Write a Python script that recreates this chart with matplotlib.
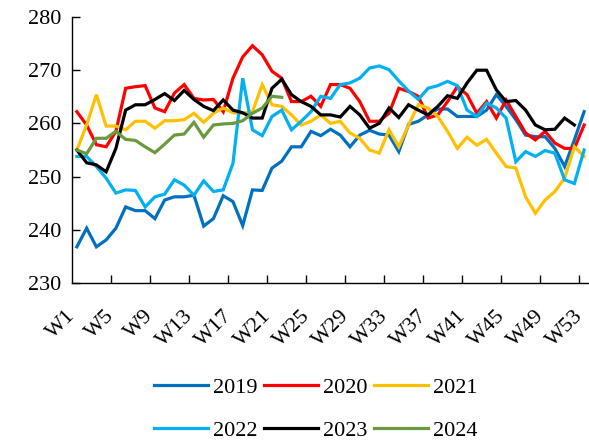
import matplotlib
matplotlib.use("Agg")
import matplotlib.pyplot as plt
from matplotlib.transforms import ScaledTranslation

plt.rcParams['font.family'] = ['Liberation Serif', 'DejaVu Serif']

weeks = list(range(1, 54))
tick_labels = ["W%d" % w for w in range(1, 54, 4)]

y2019 = [236.8, 240.3, 236.8, 238.1, 240.3, 244.3, 243.6, 243.6, 242.1, 245.6,
         246.2, 246.2, 246.5, 240.7, 242.1, 246.4, 245.3, 240.8, 247.5, 247.4,
         251.6, 252.9, 255.6, 255.6, 258.5, 257.7, 258.9, 257.8, 255.6, 257.8,
         258.7, 258.0, 257.8, 254.7, 259.8, 260.4, 261.6, 262.7, 262.7, 261.3,
         261.3, 261.3, 262.5, 265.4, 263.2, 260.7, 257.8, 257.5, 257.5, 255.3,
         251.9, 256.9, 262.2]
y2020 = [262.2, 259.7, 256.0, 255.6, 258.5, 266.6, 266.9, 267.1, 262.9, 262.2,
         265.7, 267.3, 264.7, 264.4, 264.5, 262.2, 268.5, 272.5, 274.6, 272.9,
         269.8, 268.5, 264.1, 264.1, 265.1, 263.2, 267.3, 267.3, 266.6, 264.1,
         260.4, 260.4, 261.9, 266.6, 266.0, 265.1, 261.0, 261.6, 264.1, 266.9,
         265.4, 261.9, 264.1, 261.0, 264.4, 261.3, 258.2, 256.9, 258.5, 256.3,
         255.3, 255.3, 259.7]
y2021 = [255.0, 259.7, 265.4, 259.5, 259.5, 258.8, 260.4, 260.4, 259.1, 260.5,
         260.5, 260.7, 261.9, 260.2, 261.9, 262.9, 262.0, 261.9, 262.2, 267.3,
         263.5, 263.2, 261.6, 259.7, 260.4, 261.6, 260.0, 260.4, 258.2, 257.2,
         255.0, 254.4, 258.8, 255.6, 259.7, 263.5, 262.9, 261.3, 258.5, 255.3,
         257.4, 255.9, 257.0, 254.4, 251.9, 251.6, 246.2, 243.1, 245.6, 247.2,
         249.7, 255.6, 253.8]
y2022 = [253.8, 253.8, 251.9, 249.7, 246.9, 247.5, 247.4, 244.3, 246.2, 246.7,
         249.4, 248.4, 246.5, 249.2, 247.2, 247.5, 252.5, 268.5, 258.8, 257.7,
         261.3, 262.5, 258.8, 260.4, 262.2, 265.1, 264.7, 267.3, 267.6, 268.5,
         270.4, 270.8, 270.1, 268.0, 266.1, 264.5, 266.6, 267.1, 267.9, 267.1,
         262.5, 261.3, 263.8, 262.9, 261.0, 252.8, 254.7, 253.8, 254.9, 254.4,
         249.4, 248.7, 255.0]
y2023 = [255.0, 252.6, 252.2, 250.9, 255.3, 262.5, 263.5, 263.5, 264.5, 265.6,
         264.3, 266.2, 264.5, 263.2, 262.4, 264.4, 262.5, 262.0, 261.0, 261.0,
         266.6, 268.3, 265.4, 264.1, 263.2, 261.6, 261.6, 261.2, 263.2, 261.6,
         259.1, 260.0, 262.9, 261.1, 263.5, 262.5, 261.6, 263.2, 265.2, 264.7,
         267.6, 270.0, 270.0, 266.3, 264.1, 264.3, 262.5, 259.7, 258.8, 258.9,
         261.0, 259.7]
y2024 = [255.0, 254.3, 257.2, 257.2, 258.5, 257.0, 256.8, 255.6, 254.5, 256.1,
         257.8, 258.0, 260.2, 257.4, 259.7, 259.9, 260.0, 260.5, 261.9, 262.9,
         265.1, 264.9]

series = [("2019", y2019, "#0070C0"), ("2020", y2020, "#FF0000"),
          ("2021", y2021, "#FFC000"), ("2022", y2022, "#00B0F0"),
          ("2023", y2023, "#000000"), ("2024", y2024, "#6A9A3E")]

fig = plt.figure(figsize=(5.89, 4.41), dpi=100)
ax = fig.add_axes([72/589, 1-283/441, 1-72/589, (283-17)/441])

handles = {}
for name, vals, col in series:
    ln, = ax.plot(weeks[:len(vals)], vals, color=col, lw=2.3, label=name,
                  solid_joinstyle='miter')
    handles[name] = ln

ax.set_xlim(0.5, 53.5)
ax.set_ylim(230, 280)
ax.set_yticks(range(230, 281, 10))
ax.spines['top'].set_visible(False)
ax.spines['right'].set_visible(False)
for s in ('left', 'bottom'):
    ax.spines[s].set_linewidth(1.0)

ax.set_xticks([4.5 + 4*i for i in range(13)])
ax.set_xticklabels([])
ax.set_xticks(list(range(1, 54, 4)), minor=True)
ax.set_xticklabels(tick_labels, minor=True, rotation=45, ha='right',
                   va='center', rotation_mode='anchor')
ax.tick_params(axis='x', which='major', direction='in', length=6, width=1)
ax.tick_params(axis='x', which='minor', length=0, pad=22, labelsize=16)
ax.tick_params(axis='y', direction='in', length=6, width=1, labelsize=16, pad=8)

shift = ScaledTranslation(-4/100, 0, fig.dpi_scale_trans)
for lab in ax.get_xticklabels(minor=True):
    lab.set_transform(lab.get_transform() + shift)

order = ["2019", "2022", "2020", "2023", "2021", "2024"]
fig.legend([handles[k] for k in order], order, loc='center',
           bbox_to_anchor=(316/589, 1-409/441), ncol=3,
           frameon=False, fontsize=16, handlelength=2.4, handletextpad=0.25,
           columnspacing=0.3, labelspacing=1.0)

fig.savefig("out.png", dpi=100)
